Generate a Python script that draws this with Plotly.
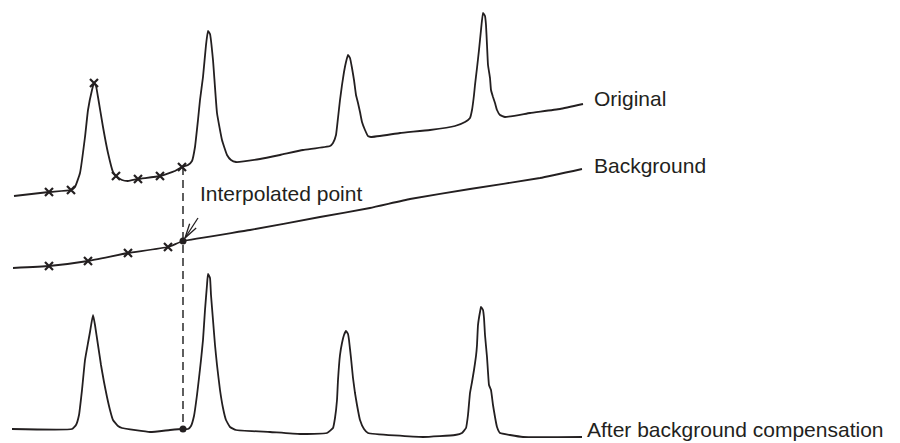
import numpy as np
import plotly.graph_objects as go

# ---------------- data (diagram units: x to the right, y downward) ----------------
orig_x = [14, 49, 71, 75, 80, 85, 88, 92, 94, 96, 98, 103, 108, 113, 116, 122, 128,
          138, 160, 175, 182, 188, 192, 195, 198, 200, 203, 206, 208, 210, 213, 217,
          222, 227, 231, 236, 260, 280, 303, 330, 333, 336, 338, 340, 342, 344, 346,
          348, 350, 352, 354, 356, 358, 360, 362, 365, 368, 371, 400, 430, 455, 465,
          470, 472, 474, 475, 477, 479, 481, 483, 485, 486, 487, 488, 490, 491, 493,
          495, 497, 500, 505, 530, 560, 583]
orig_y = [196, 192, 190, 187, 173, 137, 110, 90, 83, 86, 97, 127, 153, 172, 176, 180, 181,
          179, 176, 171, 167, 165, 161, 147, 120, 100, 77, 45, 31, 34, 60, 113,
          140, 155, 160, 162, 159, 155, 150, 146, 143, 135, 118, 100, 85, 72, 62,
          55, 58, 68, 80, 95, 103, 112, 122, 130, 136, 137, 133, 130, 126, 122,
          118, 110, 95, 85, 68, 50, 30, 13, 16, 25, 45, 65, 78, 90, 97,
          103, 110, 115, 117, 113, 109, 104]

bg_x = [13, 49, 88, 128, 168, 183, 250, 320, 370, 410, 470, 540, 582]
bg_y = [268, 266, 261, 253, 247, 241, 230, 217, 208, 199, 189, 178, 169]

comp_x = [12, 72, 76, 79, 82, 85, 88, 90, 93, 95, 98, 101, 104, 107, 110, 113, 118, 122,
          150, 170, 183, 188, 191, 194, 197, 199, 201, 203, 205, 207, 208, 210, 211, 213,
          215, 217, 220, 223, 226, 230, 236, 270, 300, 327, 333, 335, 337, 338, 340, 342,
          344, 346, 348, 349, 351, 353, 355, 357, 360, 364, 368, 423, 455, 462, 466, 468,
          470, 472, 474, 476, 477, 478, 480, 481, 483, 484, 485, 487, 488, 489, 491, 493,
          495, 497, 500, 510, 523, 582]
comp_y = [429, 429, 425, 415, 390, 360, 343, 332, 315, 325, 345, 365, 382, 397, 410, 420, 426, 428,
          432, 430, 429, 429, 426, 416, 395, 378, 360, 340, 310, 285, 274, 278, 295, 320,
          345, 365, 390, 408, 420, 427, 430, 432, 434, 433, 428, 418, 400, 380, 355, 343,
          335, 331, 334, 340, 358, 378, 393, 405, 420, 429, 433, 437, 435, 433, 428, 415,
          393, 382, 370, 356, 345, 325, 312, 307, 310, 318, 335, 357, 372, 385, 390, 405,
          417, 427, 433, 435, 437, 437]

orig_mark_x = [49, 71, 94, 116, 138, 160, 182]
orig_mark_y = [192, 190, 83, 176, 179, 176, 167]
bg_mark_x = [49, 88, 128, 168]
bg_mark_y = [266, 261, 253, 247]
interp_x = 183
interp_bg_y = 241
interp_comp_y = 429
interp_orig_y = 167

labels = ["Original", "Background", "Interpolated point", "After background compensation"]
label_x = [592, 592, 198, 585]
label_y = [98, 165, 193, 429]

INK = "#231f20"
FONT = dict(family="Liberation Sans, Arial, sans-serif", size=21, color=INK)

fig = go.Figure()

for xs, ys in [(orig_x, orig_y), (bg_x, bg_y), (comp_x, comp_y)]:
    fig.add_trace(go.Scatter(x=xs, y=ys, mode="lines",
                             line=dict(color=INK, width=1.8, shape="spline", smoothing=0.35),
                             hoverinfo="skip", showlegend=False))

# dashed vertical link through the interpolated point
fig.add_trace(go.Scatter(x=[interp_x, interp_x], y=[interp_orig_y, interp_comp_y], mode="lines",
                         line=dict(color="#4d4d4d", width=1.8, dash="8px,5px"),
                         hoverinfo="skip", showlegend=False))

# x marks
fig.add_trace(go.Scatter(x=orig_mark_x + bg_mark_x, y=orig_mark_y + bg_mark_y, mode="markers",
                         marker=dict(symbol="x-thin", size=8, line=dict(color=INK, width=2.2)),
                         hoverinfo="skip", showlegend=False))
# interpolated dots
fig.add_trace(go.Scatter(x=[interp_x, interp_x], y=[interp_bg_y, interp_comp_y], mode="markers",
                         marker=dict(symbol="circle", size=7, color=INK),
                         hoverinfo="skip", showlegend=False))

# arrow pointing at the interpolated point (open V head)
tip = np.array([interp_x + 2, interp_bg_y - 3])
tail = np.array([198.0, 218.0])
d = (tail - tip) / np.linalg.norm(tail - tip)
ang = np.deg2rad(15)
arm = 15
def rot(v, a):
    return np.array([v[0] * np.cos(a) - v[1] * np.sin(a), v[0] * np.sin(a) + v[1] * np.cos(a)])
a1 = tip + arm * rot(d, ang)
a2 = tip + arm * rot(d, -ang)
fig.add_trace(go.Scatter(x=[tail[0], tip[0], None, a1[0], tip[0], a2[0]],
                         y=[tail[1], tip[1], None, a1[1], tip[1], a2[1]],
                         mode="lines", line=dict(color=INK, width=1.3),
                         hoverinfo="skip", showlegend=False))

for t, x, y in zip(labels, label_x, label_y):
    fig.add_annotation(x=x, y=y, text=t, showarrow=False, xanchor="left", yanchor="middle",
                       font=FONT)

fig.update_xaxes(range=[0, 900], visible=False)
fig.update_yaxes(range=[443, 0], visible=False)
fig.update_layout(width=900, height=443, margin=dict(l=0, r=0, t=0, b=0),
                  plot_bgcolor="white", paper_bgcolor="white")

fig.write_html("out.html", config={"displayModeBar": False},
               post_script="document.body.style.margin='0';document.body.style.overflow='hidden';")
